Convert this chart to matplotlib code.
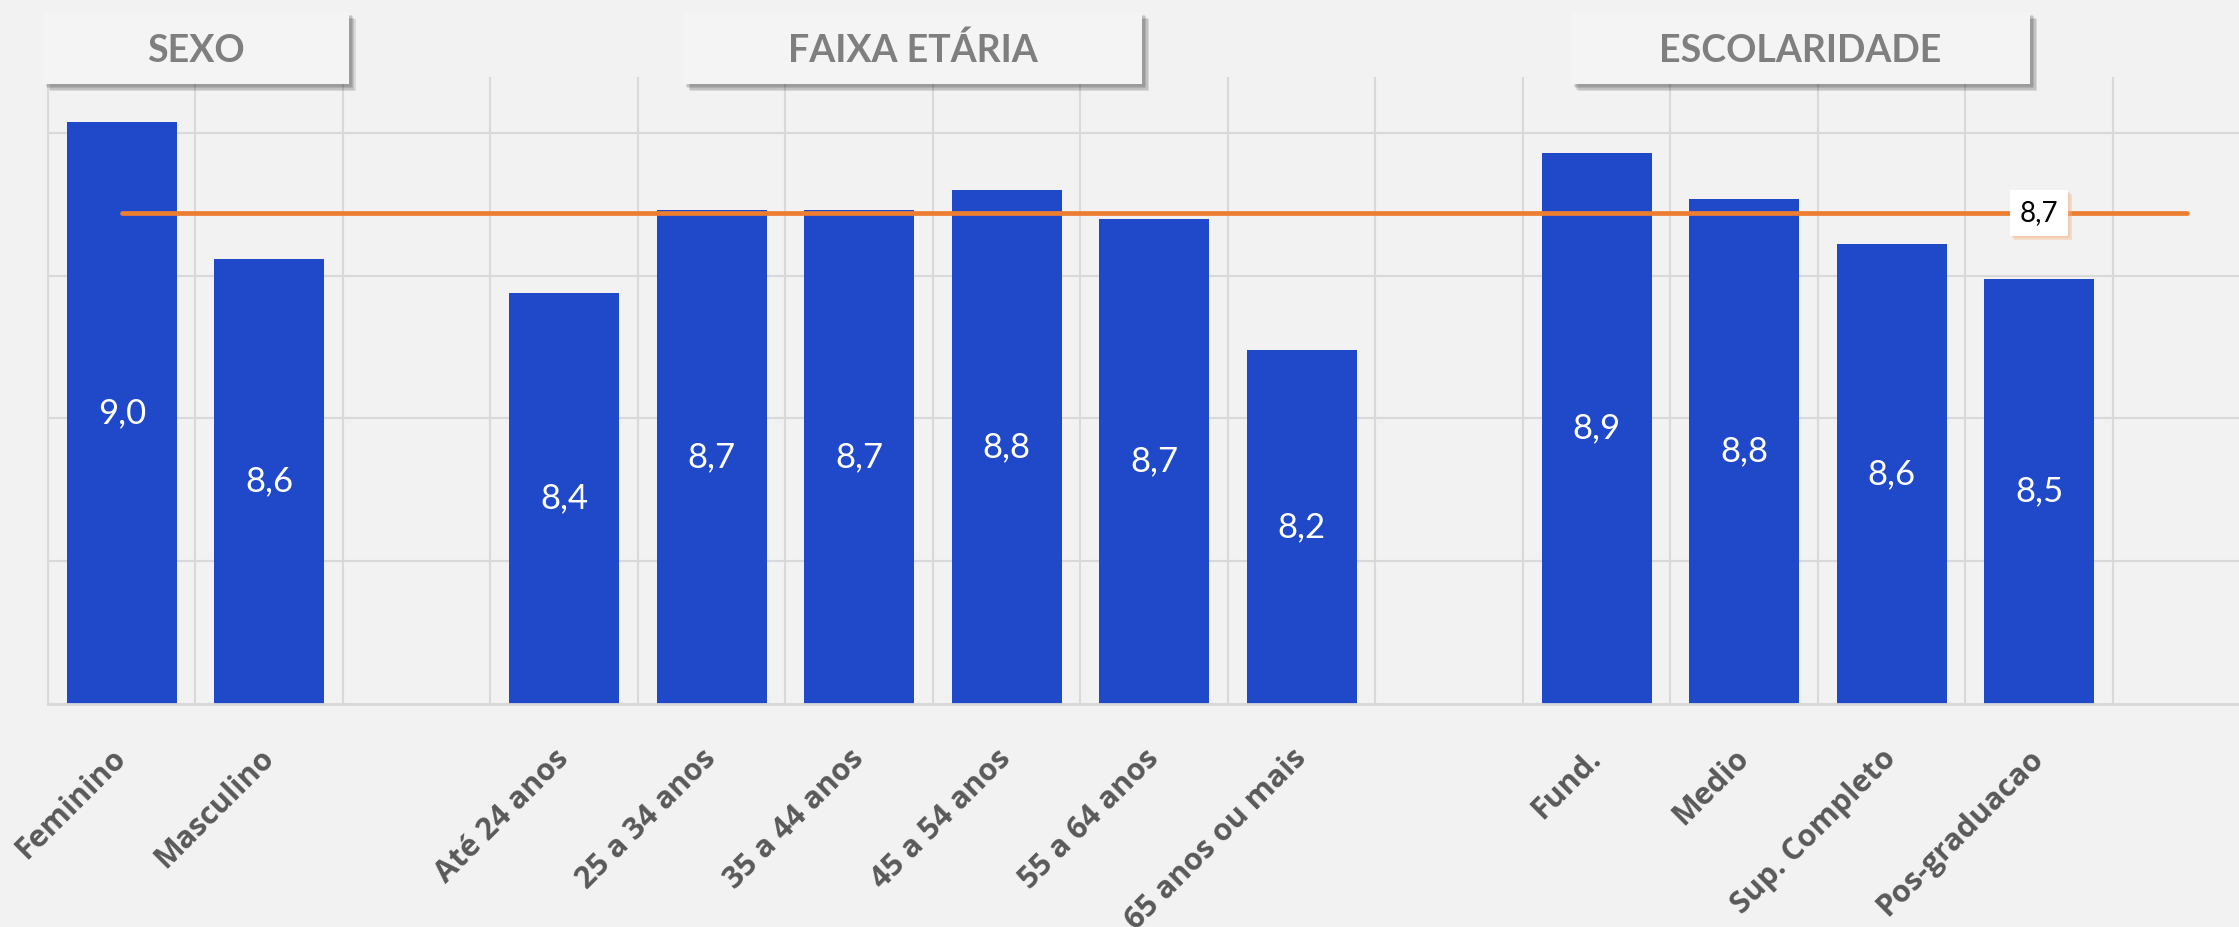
import numpy as np
import matplotlib
matplotlib.use("Agg")
import matplotlib.pyplot as plt
import matplotlib.patheffects as pe
import matplotlib.transforms as mtransforms
from matplotlib.patches import Rectangle

# dados (posicoes vazias separam os grupos)
categorias = ["Feminino", "Masculino", "",
              "Até 24 anos", "25 a 34 anos", "35 a 44 anos", "45 a 54 anos",
              "55 a 64 anos", "65 anos ou mais", "",
              "Fund.", "Medio", "Sup. Completo", "Pos-graduacao", ""]
notas = [9.04, 8.56, np.nan,
         8.44, 8.73, 8.73, 8.80, 8.70, 8.24, np.nan,
         8.93, 8.77, 8.61, 8.49, np.nan]
media_geral = 8.72
grupos = ["SEXO", "FAIXA ETÁRIA", "ESCOLARIDADE"]
# extensao (em x dos dados) das caixas de titulo
caixas_x = [(-0.534, 1.54), (3.805, 6.917), (9.825, 12.94)]

fundo = "#F2F2F2"
grade = "#D9D9D9"

fig = plt.figure(figsize=(22.39, 9.27), dpi=100, facecolor=fundo)
ax = fig.add_axes([0.02144, 0.2406, 0.97856, 0.6763])
ax.set_facecolor(fundo)

x = np.arange(len(categorias))
notas = np.array(notas)
ok = ~np.isnan(notas)

ax.bar(x[ok], notas[ok], width=0.745, color="#1F49C9", zorder=2)

for xi, v in zip(x[ok], notas[ok]):
    ax.text(xi, (7.0 + v) / 2, f"{v:.1f}".replace(".", ","), ha="center", va="center",
            color="white", fontsize=25, family="Lato", zorder=3)

# linha da media
ax.plot(x, [media_geral] * len(x), color="#ED7D31", lw=3.4,
        solid_capstyle="round", zorder=4)
t = ax.text(13, media_geral, f"{media_geral:.1f}".replace(".", ","), ha="center", va="center",
            fontsize=20, family="Lato", color="black", zorder=5,
            bbox=dict(boxstyle="square,pad=0.35", fc="white", ec="none"))
t.get_bbox_patch().set_path_effects([
    pe.SimplePatchShadow(offset=(3, -3), shadow_rgbFace="#F4B183", alpha=0.35),
    pe.SimplePatchShadow(offset=(1.5, -1.5), shadow_rgbFace="#F4B183", alpha=0.35),
    pe.Normal()])

ax.set_xlim(-0.5, 14.355)
ax.set_ylim(7.0, 9.196)
ax.set_yticks([7.0, 7.5, 8.0, 8.5, 9.0])
ax.set_yticklabels([])
ax.set_xticks(x)
ax.set_xticklabels(categorias, rotation=45, ha="right", va="center",
                   rotation_mode="anchor", fontsize=22, family="Open Sans",
                   weight="bold", color="#595959")
ax.set_xticks(np.arange(-0.5, 14.5, 1), minor=True)
ax.tick_params(axis="x", which="both", length=0, pad=36)
ax.tick_params(axis="y", length=0)
ax.grid(True, which="minor", axis="x", color=grade, lw=1.5)
ax.grid(True, which="major", axis="y", color=grade, lw=1.5)
ax.set_axisbelow(True)
for s in ["top", "right"]:
    ax.spines[s].set_visible(False)
ax.spines["bottom"].set_color(grade)
ax.spines["bottom"].set_linewidth(2)
ax.spines["left"].set_color(grade)
ax.spines["left"].set_linewidth(1.5)

# caixas de titulo dos grupos
trans = mtransforms.blended_transform_factory(ax.transData, fig.transFigure)
sombra = [pe.SimplePatchShadow(offset=(o, -o), shadow_rgbFace="black", alpha=0.1)
          for o in (5, 4, 3, 2)] + [pe.Normal()]
for nome, (x0, x1) in zip(grupos, caixas_x):
    r = Rectangle((x0, 0.9094), x1 - x0, 0.0777, transform=trans, fc="#F4F4F4",
                  ec="none", clip_on=False, zorder=6, path_effects=sombra)
    ax.add_patch(r)
    ax.text((x0 + x1) / 2, 0.9331, nome, transform=trans, ha="center", va="baseline",
            fontsize=27, weight="bold", family="Lato", color="#7F7F7F", zorder=7)

fig.savefig("out.png", dpi=100, facecolor=fundo)
